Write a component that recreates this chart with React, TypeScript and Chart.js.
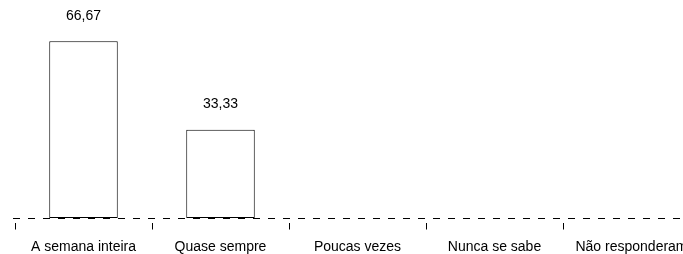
import React, { useEffect, useRef } from "react";
import { Chart, registerables } from "chart.js";

Chart.register(...registerables);

const categories = ["A semana inteira", "Quase sempre", "Poucas vezes", "Nunca se sabe", "Não responderam"];
const values = [66.67, 33.33, 0, 0, 0];
const yMin = 0;
const yMax = 80;

const FONT = "Arial, 'Liberation Sans', sans-serif";

const axisDecor = {
  id: "axisDecor",
  beforeDatasetsDraw(chart: any) {
    const ctx = chart.ctx;
    const xs = chart.scales.x;
    const ys = chart.scales.y;
    const y0 = Math.round(ys.getPixelForValue(0)) + 0.5;
    ctx.save();
    ctx.strokeStyle = "#000";
    ctx.lineWidth = 1;
    ctx.setLineDash([7, 8]);
    ctx.beginPath();
    ctx.moveTo(chart.chartArea.left - 2, y0);
    ctx.lineTo(chart.chartArea.right, y0);
    ctx.stroke();
    ctx.setLineDash([]);
    const n = categories.length;
    const half = (xs.getPixelForValue(1) - xs.getPixelForValue(0)) / 2;
    ctx.beginPath();
    for (let i = 0; i <= n; i++) {
      const x = Math.round(xs.getPixelForValue(i) - half) + 0.5;
      ctx.moveTo(x, y0 + 4.5);
      ctx.lineTo(x, y0 + 11);
    }
    ctx.stroke();
    ctx.restore();
  },
  afterDatasetsDraw(chart: any) {
    const ctx = chart.ctx;
    const meta = chart.getDatasetMeta(0);
    ctx.save();
    ctx.font = `14px ${FONT}`;
    ctx.fillStyle = "#000";
    ctx.textAlign = "center";
    ctx.textBaseline = "middle";
    meta.data.forEach((el: any, i: number) => {
      const v = values[i];
      if (!v) return;
      const txt = v.toFixed(2).replace(".", ",");
      ctx.fillText(txt, el.x, el.y - 25.5);
    });
    ctx.restore();
  },
};

export default function App() {
  const ref = useRef<HTMLCanvasElement>(null);
  useEffect(() => {
    if (!ref.current) return;
    const chart = new Chart(ref.current, {
      type: "bar",
      data: {
        labels: categories,
        datasets: [
          {
            data: values,
            backgroundColor: "#ffffff",
            borderColor: "#000000",
            borderWidth: (c: any) => (c.raw > 0 ? 1 : 0),
            borderSkipped: false,
            barPercentage: 0.5,
            categoryPercentage: 1,
          },
        ],
      },
      options: {
        responsive: false,
        animation: false,
        events: [],
        layout: { padding: { left: 15, right: 20, top: 6, bottom: 0 } },
        plugins: { legend: { display: false }, tooltip: { enabled: false } },
        scales: {
          x: {
            offset: true,
            grid: { display: false, drawTicks: true, tickLength: 11 },
            border: { display: false },
            afterFit: (s: any) => {
              s.height = 36;
            },
            ticks: {
              color: "#000",
              font: { family: FONT, size: 14 },
              padding: 10,
              maxRotation: 0,
              autoSkip: false,
            },
          },
          y: {
            display: false,
            min: yMin,
            max: yMax,
          },
        },
      },
      plugins: [axisDecor],
    } as any);
    return () => chart.destroy();
  }, []);
  return (
    <div style={{ position: "fixed", left: 0, top: 0, width: 683, height: 254, overflow: "hidden", background: "#fff" }}>
      <canvas ref={ref} width={720} height={254} style={{ display: "block" }} />
    </div>
  );
}
